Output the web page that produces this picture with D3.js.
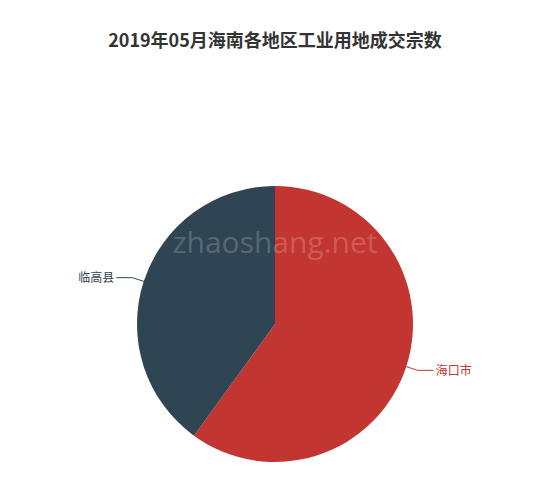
<!DOCTYPE html>
<html>
<head>
<meta charset="utf-8">
<script src="https://cdn.jsdelivr.net/npm/d3@7"></script>
<style>
  body { margin: 0; background: #fff; }
  text { font-family: "Noto Sans CJK SC", "Noto Sans", sans-serif; }
</style>
</head>
<body>
<svg id="svg1" width="550" height="490"></svg>
<script>
var svg = d3.select('#svg1');
var svgWidth = +svg.attr('width');

var titleText = '2019年05月海南各地区工业用地成交宗数';
var regions = ['海口市', '临高县'];
var counts = [3, 2];
var colors = ['#c23531', '#2f4554'];

var cx = 275, cy = 324, radius = 138;

svg.append('text')
    .attr('x', svgWidth / 2)
    .attr('y', 47)
    .attr('text-anchor', 'middle')
    .style('font-size', '18px')
    .style('font-weight', 'bold')
    .style('fill', '#333')
    .text(titleText);

var data = regions.map(function(d, i) { return {name: d, value: counts[i]}; });

var colorScale = d3.scaleOrdinal().domain(regions).range(colors);

var pie = d3.pie().sort(null).value(function(d) { return d.value; });
var arc = d3.arc().innerRadius(0).outerRadius(radius);

var g = svg.append('g').attr('transform', 'translate(' + [cx, cy] + ')');

var arcs = pie(data);

g.selectAll('.slice')
    .data(arcs)
    .enter()
    .append('path')
    .attr('class', 'slice')
    .attr('d', arc)
    .style('fill', function(d) { return colorScale(d.data.name); });

// leader lines + labels
arcs.forEach(function(d) {
    var mid = (d.startAngle + d.endAngle) / 2;
    var sx = Math.sin(mid), sy = -Math.cos(mid);
    var p1 = [radius * sx, radius * sy];
    var p2 = [(radius + 12) * sx, (radius + 12) * sy];
    var right = sx >= 0;
    var p3 = [p2[0] + (right ? 16 : -16), p2[1]];
    var c = colorScale(d.data.name);

    g.append('polyline')
        .attr('points', [p1, p2, p3].map(function(p) { return p.join(','); }).join(' '))
        .style('fill', 'none')
        .style('stroke', c)
        .style('stroke-width', 1);

    g.append('text')
        .attr('x', p3[0] + (right ? 2 : -2))
        .attr('y', p3[1])
        .attr('dy', '0.35em')
        .attr('text-anchor', right ? 'start' : 'end')
        .style('font-size', '12px')
        .style('fill', c)
        .text(d.data.name);
});

// watermark
svg.append('text')
    .attr('x', 275)
    .attr('y', 253)
    .attr('text-anchor', 'middle')
    .style('font-family', '"Open Sans", "DejaVu Sans", sans-serif')
    .style('font-size', '30px')
    .style('fill', '#fff')
    .style('fill-opacity', 0.2)
    .text('zhaoshang.net');
</script>
</body>
</html>
